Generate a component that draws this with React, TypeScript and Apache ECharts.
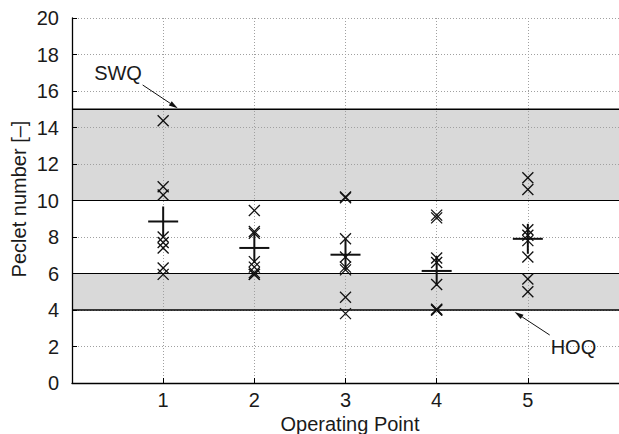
import React, { useEffect, useRef } from "react";
import * as echarts from "echarts";

const categories = [1, 2, 3, 4, 5];
const op1 = [14.37, 10.75, 10.3, 8.0, 7.7, 7.4, 6.3, 5.95];
const op2 = [9.45, 8.3, 8.2, 6.65, 6.35, 6.05, 5.95, 5.95];
const op3 = [10.2, 10.15, 7.9, 6.9, 6.35, 6.2, 4.7, 3.8];
const op4 = [9.2, 9.05, 6.85, 6.6, 5.4, 4.05, 4.0, 4.0];
const op5 = [11.25, 10.6, 8.4, 8.1, 7.8, 6.9, 5.7, 5.0];
const means = [8.85, 7.4, 7.03, 6.14, 7.9];
const bands = [
  [4, 6],
  [10, 15],
];
const refLines = [15, 10, 6, 4];
const yTickLabels = ["0", "2", "4", "6", "8", "10", "12", "14", "16", "18", "20"];

const FONT = "'Liberation Sans', Arial, sans-serif";
const TXT = "#1a1a1a";
const FS = 20;

export default function App() {
  const ref = useRef<HTMLDivElement>(null);
  useEffect(() => {
    if (!ref.current) return;
    const chart = echarts.init(ref.current, null, { renderer: "svg" });
    const groups = [op1, op2, op3, op4, op5];
    const crossData: number[][] = [];
    groups.forEach((g, i) => g.forEach((v) => crossData.push([categories[i], v])));
    const meanData = means.map((m, i) => [categories[i], m]);

    const option: any = {
      animation: false,
      grid: { left: 72, top: 18, width: 560, height: 365, containLabel: false },
      xAxis: {
        type: "value",
        min: 0,
        max: 6,
        interval: 1,
        axisLine: { show: true, onZero: false, lineStyle: { color: "#000", width: 1.3 } },
        axisTick: { show: true, inside: true, length: 5, customValues: categories, lineStyle: { color: "#000" } },
        axisLabel: {
          customValues: categories,
          margin: 7,
          color: TXT,
          fontSize: FS,
          fontFamily: FONT,
        },
        splitLine: { show: true, lineStyle: { color: "#a0a0a0", type: [1, 2], width: 1 } },
      },
      yAxis: {
        type: "value",
        min: 0,
        max: 20,
        interval: 2,
        axisLine: { show: true, lineStyle: { color: "#000", width: 1.3 } },
        axisTick: { show: true, inside: true, length: 5, lineStyle: { color: "#000" } },
        axisLabel: {
          margin: 13,
          color: TXT,
          fontSize: FS,
          fontFamily: FONT,
          formatter: (v: number) => yTickLabels[Math.round(v / 2)] ?? String(v),
        },
        splitLine: { show: true, lineStyle: { color: "#a0a0a0", type: [1, 2], width: 1 } },
      },
      series: [
        {
          type: "custom",
          z: -1,
          silent: true,
          clip: true,
          data: bands,
          renderItem: (params: any, api: any) => {
            const lo = api.value(0);
            const hi = api.value(1);
            const p1 = api.coord([0, hi]);
            const p2 = api.coord([6, lo]);
            return {
              type: "rect",
              shape: { x: p1[0], y: p1[1], width: p2[0] - p1[0], height: p2[1] - p1[1] },
              style: { fill: "#d9d9d9" },
            };
          },
        },
        {
          type: "custom",
          silent: true,
          clip: true,
          data: refLines.map((v) => [v]),
          renderItem: (params: any, api: any) => {
            const v = api.value(0);
            const a = api.coord([0, v]);
            const b = api.coord([6, v]);
            const w = v === 15 || v === 4 ? 1.7 : 1.1;
            return {
              type: "line",
              shape: { x1: a[0], y1: a[1], x2: b[0], y2: b[1] },
              style: { stroke: "#000", lineWidth: w },
            };
          },
        },
        {
          type: "custom",
          silent: true,
          data: crossData,
          renderItem: (params: any, api: any) => {
            const p = api.coord([api.value(0), api.value(1)]);
            const s = 5.5;
            const st = { stroke: "#111", lineWidth: 1.3 };
            return {
              type: "group",
              children: [
                { type: "line", shape: { x1: p[0] - s, y1: p[1] - s, x2: p[0] + s, y2: p[1] + s }, style: st },
                { type: "line", shape: { x1: p[0] - s, y1: p[1] + s, x2: p[0] + s, y2: p[1] - s }, style: st },
              ],
            };
          },
        },
        {
          type: "custom",
          silent: true,
          data: meanData,
          renderItem: (params: any, api: any) => {
            const p = api.coord([api.value(0), api.value(1)]);
            const s = 15;
            const st = { stroke: "#111", lineWidth: 2 };
            return {
              type: "group",
              children: [
                { type: "line", shape: { x1: p[0] - s, y1: p[1], x2: p[0] + s, y2: p[1] }, style: st },
                { type: "line", shape: { x1: p[0], y1: p[1] - s, x2: p[0], y2: p[1] + s }, style: st },
              ],
            };
          },
        },
      ],
    };
    chart.setOption(option);

    const px = (x: number, y: number) => chart.convertToPixel({ gridIndex: 0 }, [x, y]) as number[];
    const arrow = (from: number[], to: number[]) => {
      const dx = to[0] - from[0];
      const dy = to[1] - from[1];
      const len = Math.sqrt(dx * dx + dy * dy);
      const ux = dx / len;
      const uy = dy / len;
      const hl = 9;
      const hw = 2.6;
      const bx = to[0] - ux * hl;
      const by = to[1] - uy * hl;
      return [
        {
          type: "line",
          shape: { x1: from[0], y1: from[1], x2: bx, y2: by },
          style: { stroke: "#111", lineWidth: 1 },
        },
        {
          type: "polygon",
          shape: {
            points: [
              [to[0], to[1]],
              [bx - uy * hw, by + ux * hw],
              [bx + uy * hw, by - ux * hw],
            ],
          },
          style: { fill: "#111" },
        },
      ];
    };
    const swqFrom = px(0.775, 16.33);
    const swqTo = px(1.16, 15.05);
    const swqText = px(0.505, 16.99);
    const hoqFrom = px(5.24, 2.63);
    const hoqTo = px(4.855, 3.89);
    const hoqText = px(5.5, 1.97);

    chart.setOption({
      graphic: [
        ...arrow(swqFrom, swqTo),
        ...arrow(hoqFrom, hoqTo),
        {
          type: "text",
          x: swqText[0],
          y: swqText[1],
          style: { text: "SWQ", fill: TXT, font: `${FS}px ${FONT}`, textAlign: "center", textVerticalAlign: "middle" },
        },
        {
          type: "text",
          x: hoqText[0],
          y: hoqText[1],
          style: { text: "HOQ", fill: TXT, font: `${FS}px ${FONT}`, textAlign: "center", textVerticalAlign: "middle" },
        },
        {
          type: "text",
          x: 19,
          y: 199,
          rotation: Math.PI / 2,
          style: {
            text: "Peclet number [–]",
            fill: TXT,
            font: `${FS}px ${FONT}`,
            textAlign: "center",
            textVerticalAlign: "middle",
          },
        },
        {
          type: "text",
          x: 350,
          y: 424,
          style: {
            text: "Operating Point",
            fill: TXT,
            font: `${FS}px ${FONT}`,
            textAlign: "center",
            textVerticalAlign: "middle",
          },
        },
      ],
    });

    return () => chart.dispose();
  }, []);
  return (
    <div
      ref={ref}
      style={{ position: "fixed", left: 0, top: 0, width: 619, height: 434, background: "#fff" }}
    />
  );
}
